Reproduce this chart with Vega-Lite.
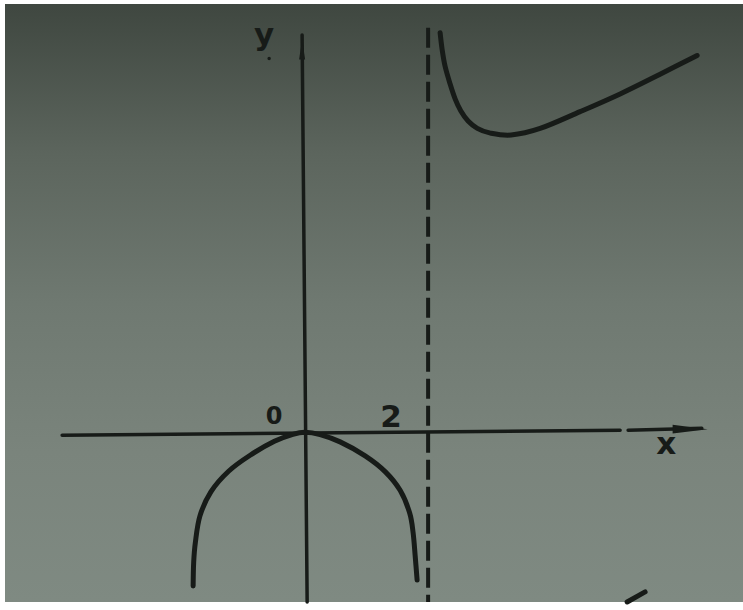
{
  "$schema": "https://vega.github.io/schema/vega-lite/v6.json",
  "width": 743,
  "height": 610,
  "autosize": {"type": "fit", "contains": "padding"},
  "padding": {"left": 5, "top": 4, "right": 0, "bottom": 0},
  "background": "#ffffff",
  "config": {"view": {"stroke": null}},
  "datasets": {
    "paper": [{"x": -4.88, "x2": 7.12, "y": -2.8, "y2": 7.06}],
    "curves": [
      {"part": "right", "i": 0, "x": 2.195, "y": 6.585},
      {"part": "right", "i": 1, "x": 2.228, "y": 6.309},
      {"part": "right", "i": 2, "x": 2.276, "y": 6.033},
      {"part": "right", "i": 3, "x": 2.358, "y": 5.74},
      {"part": "right", "i": 4, "x": 2.439, "y": 5.496},
      {"part": "right", "i": 5, "x": 2.53, "y": 5.3},
      {"part": "right", "i": 6, "x": 2.65, "y": 5.13},
      {"part": "right", "i": 7, "x": 2.8, "y": 5.01},
      {"part": "right", "i": 8, "x": 3.0, "y": 4.935},
      {"part": "right", "i": 9, "x": 3.35, "y": 4.9},
      {"part": "right", "i": 10, "x": 3.821, "y": 5.008},
      {"part": "right", "i": 11, "x": 4.472, "y": 5.285},
      {"part": "right", "i": 12, "x": 5.122, "y": 5.577},
      {"part": "right", "i": 13, "x": 5.772, "y": 5.902},
      {"part": "right", "i": 14, "x": 6.374, "y": 6.211},
      {"part": "arch", "i": 0, "x": -1.821, "y": -2.537},
      {"part": "arch", "i": 1, "x": -1.812, "y": -2.146},
      {"part": "arch", "i": 2, "x": -1.785, "y": -1.821},
      {"part": "arch", "i": 3, "x": -1.71, "y": -1.38},
      {"part": "arch", "i": 4, "x": -1.53, "y": -0.98},
      {"part": "arch", "i": 5, "x": -1.24, "y": -0.64},
      {"part": "arch", "i": 6, "x": -0.894, "y": -0.38},
      {"part": "arch", "i": 7, "x": -0.5, "y": -0.15},
      {"part": "arch", "i": 8, "x": -0.2, "y": -0.035},
      {"part": "arch", "i": 9, "x": 0, "y": 0},
      {"part": "arch", "i": 10, "x": 0.244, "y": -0.04},
      {"part": "arch", "i": 11, "x": 0.569, "y": -0.16},
      {"part": "arch", "i": 12, "x": 0.976, "y": -0.39},
      {"part": "arch", "i": 13, "x": 1.301, "y": -0.65},
      {"part": "arch", "i": 14, "x": 1.545, "y": -0.959},
      {"part": "arch", "i": 15, "x": 1.7, "y": -1.333},
      {"part": "arch", "i": 16, "x": 1.756, "y": -1.659},
      {"part": "arch", "i": 17, "x": 1.789, "y": -2.033},
      {"part": "arch", "i": 18, "x": 1.821, "y": -2.439},
      {"part": "pen", "i": 0, "x": 5.236, "y": -2.8},
      {"part": "pen", "i": 1, "x": 5.528, "y": -2.634}
    ],
    "axes": [
      {"part": "x1", "i": 0, "x": -3.951, "y": -0.049},
      {"part": "x1", "i": 1, "x": 5.122, "y": 0.033},
      {"part": "x2", "i": 0, "x": 5.252, "y": 0.033},
      {"part": "x2", "i": 1, "x": 6.45, "y": 0.065},
      {"part": "y", "i": 0, "x": 0.033, "y": -2.8},
      {"part": "y", "i": 1, "x": -0.049, "y": 6.55}
    ],
    "asymptote": [
      {"i": 0, "x": 2.0, "y": 6.667},
      {"i": 1, "x": 2.0, "y": -2.8}
    ],
    "arrows": [
      {"dir": "x", "x": 6.26, "y": 0.049},
      {"dir": "y", "x": -0.049, "y": 6.31}
    ],
    "labels": [
      {"text": "y", "x": -0.667, "y": 6.39},
      {"text": "0", "x": -0.504, "y": 0.13},
      {"text": "2", "x": 1.398, "y": 0.081},
      {"text": "x", "x": 5.87, "y": -0.358}
    ],
    "dots": [{"x": -0.585, "y": 6.163}]
  },
  "encoding": {
    "x": {"field": "x", "type": "quantitative", "scale": {"domain": [-4.88, 7.12], "nice": false, "zero": false}, "axis": null},
    "y": {"field": "y", "type": "quantitative", "scale": {"domain": [-2.8, 7.06], "nice": false, "zero": false}, "axis": null}
  },
  "layer": [
    {
      "data": {"name": "paper"},
      "mark": {
        "type": "rect",
        "fill": {
          "gradient": "linear", "x1": 0, "y1": 0, "x2": 0, "y2": 1,
          "stops": [
            {"offset": 0, "color": "#3f4740"},
            {"offset": 0.25, "color": "#5c655d"},
            {"offset": 0.5, "color": "#6f7971"},
            {"offset": 0.75, "color": "#7a847c"},
            {"offset": 1, "color": "#7f8a82"}
          ]
        }
      },
      "encoding": {"x2": {"field": "x2"}, "y2": {"field": "y2"}}
    },
    {
      "data": {"name": "axes"},
      "mark": {"type": "line", "color": "#171b18", "strokeWidth": 3.5, "strokeCap": "round"},
      "encoding": {"detail": {"field": "part"}, "order": {"field": "i", "type": "quantitative"}}
    },
    {
      "data": {"name": "asymptote"},
      "mark": {"type": "line", "color": "#171b18", "strokeWidth": 4, "strokeDash": [20, 7]},
      "encoding": {"order": {"field": "i", "type": "quantitative"}}
    },
    {
      "data": {"name": "curves"},
      "mark": {"type": "line", "interpolate": "cardinal", "color": "#171b18", "strokeWidth": 5, "strokeCap": "round", "strokeJoin": "round"},
      "encoding": {"detail": {"field": "part"}, "order": {"field": "i", "type": "quantitative"}}
    },
    {
      "data": {"name": "arrows"},
      "transform": [{"filter": "datum.dir === 'x'"}],
      "mark": {"type": "point", "shape": "M-1,-0.25L1,0L-1,0.25Z", "size": 1225, "filled": true, "color": "#171b18", "opacity": 1}
    },
    {
      "data": {"name": "arrows"},
      "transform": [{"filter": "datum.dir === 'y'"}],
      "mark": {"type": "point", "shape": "M-0.3,1L0,-1L0.3,1Z", "size": 400, "filled": true, "color": "#171b18", "opacity": 1}
    },
    {
      "data": {"name": "dots"},
      "mark": {"type": "point", "shape": "circle", "size": 12, "filled": true, "color": "#171b18", "opacity": 1}
    },
    {
      "data": {"name": "labels"},
      "transform": [{"filter": "datum.text !== '0'"}],
      "mark": {"type": "text", "font": "DejaVu Sans", "fontWeight": "bold", "fontSize": 31, "align": "center", "baseline": "alphabetic", "color": "#171b18"},
      "encoding": {"text": {"field": "text"}}
    },
    {
      "data": {"name": "labels"},
      "transform": [{"filter": "datum.text === '0'"}],
      "mark": {"type": "text", "font": "DejaVu Sans", "fontWeight": "bold", "fontSize": 24, "align": "center", "baseline": "alphabetic", "color": "#171b18"},
      "encoding": {"text": {"field": "text"}}
    }
  ]
}
